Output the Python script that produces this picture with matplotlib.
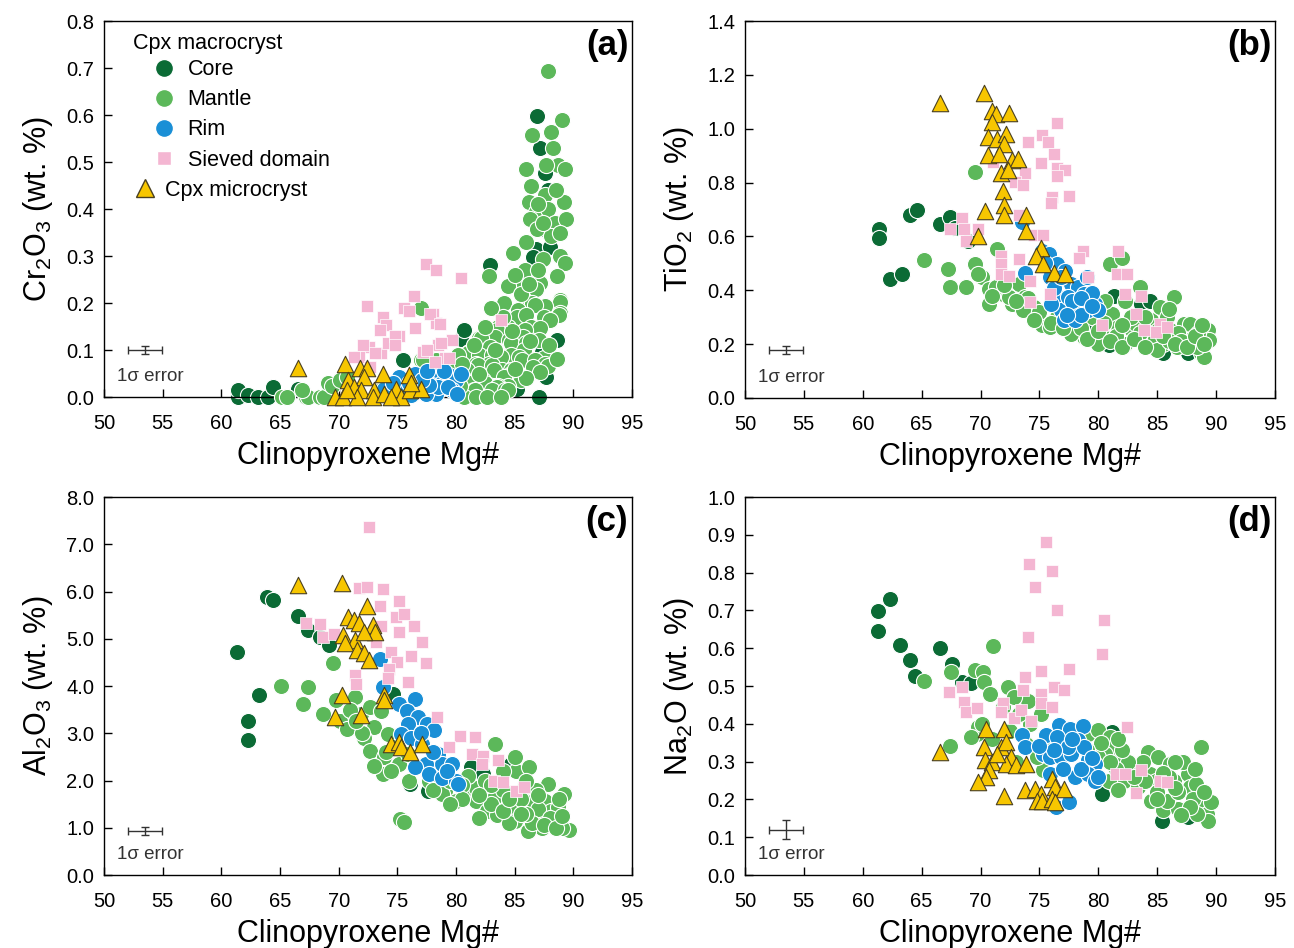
import matplotlib
matplotlib.use("Agg")
import matplotlib.pyplot as plt
from matplotlib.lines import Line2D
import numpy as np

plt.rcParams['font.family'] = ['Liberation Sans', 'DejaVu Sans']
plt.rcParams['mathtext.default'] = 'regular'

# ---------------- data (Mg#, oxide wt.%) ----------------
# panel (a) Cr2O3
a_core = [(61.4, 0.0), (61.4, 0.014), (62.3, 0.004), (63.1, 0.0), (64.0, 0.0), (64.4, 0.021),
          (66.5, 0.018), (75.5, 0.078), (80.4, 0.124), (80.7, 0.142), (82.9, 0.281), (88.6, 0.121),
          (87.1, 0.0), (87.7, 0.043), (87.3, 0.096), (86.9, 0.597), (87.2, 0.53), (87.6, 0.476),
          (87.8, 0.44), (87.7, 0.355), (86.8, 0.316), (86.6, 0.298), (88.0, 0.32), (85.2, 0.018)]
a_mantle = [(87.85, 0.693), (89.0, 0.589), (86.5, 0.557), (88.1, 0.564), (88.3, 0.529), (88.7, 0.493),
            (86.0, 0.486), (87.7, 0.493), (89.3, 0.486), (86.2, 0.414), (87.6, 0.429), (89.2, 0.414),
            (86.8, 0.393), (87.8, 0.4), (86.3, 0.379), (88.4, 0.371), (89.4, 0.379), (86.9, 0.357),
            (88.1, 0.343), (84.9, 0.307), (88.9, 0.3), (87.4, 0.293), (89.3, 0.286), (85.9, 0.271),
            (82.8, 0.257), (88.6, 0.257), (87.2, 0.243), (85.1, 0.236), (84.4, 0.236), (86.8, 0.229),
            (88.9, 0.207), (85.8, 0.2), (86.5, 0.2), (84.1, 0.2), (88.9, 0.202), (87.6, 0.193),
            (86.7, 0.195), (85.3, 0.185), (88.9, 0.179), (85.2, 0.171), (87.5, 0.17), (88.75, 0.174),
            (85.97, 0.174), (88.0, 0.164), (83.6, 0.15), (84.4, 0.149), (86.4, 0.149), (87.2, 0.146),
            (85.9, 0.143), (83.5, 0.143), (83.3, 0.128), (85.7, 0.128), (82.0, 0.125), (82.1, 0.125),
            (84.5, 0.121), (87.1, 0.121), (84.7, 0.114), (86.0, 0.114), (82.9, 0.107), (85.8, 0.1),
            (81.1, 0.096), (81.0, 0.093), (82.0, 0.089), (83.1, 0.089), (84.7, 0.089), (83.8, 0.086),
            (85.4, 0.086), (87.5, 0.082), (85.6, 0.079), (86.7, 0.079), (81.7, 0.071), (82.8, 0.071),
            (87.6, 0.071), (81.9, 0.068), (83.1, 0.068), (87.8, 0.065), (86.6, 0.064), (83.9, 0.058),
            (80.9, 0.057), (83.2, 0.057), (84.7, 0.057), (87.2, 0.054), (84.7, 0.05), (80.3, 0.05),
            (84.1, 0.043), (80.8, 0.037), (85.5, 0.036), (82.3, 0.036), (81.2, 0.029), (82.5, 0.03),
            (84.4, 0.023), (83.6, 0.023), (83.5, 0.021), (81.5, 0.015), (83.1, 0.015), (84.2, 0.015),
            (84.4, 0.014), (81.6, 0.014), (80.7, 0.0), (81.7, 0.0), (82.6, 0.0), (83.8, 0.0),
            (79.9, 0.061), (80.3, 0.023), (77.0, 0.19), (77.0, 0.079), (78.3, 0.079), (77.2, 0.079),
            (65.2, 0.0), (65.6, 0.0), (67.2, 0.0), (67.4, 0.0), (68.4, 0.0), (68.75, 0.0),
            (66.9, 0.014), (69.1, 0.029), (69.4, 0.023), (70.1, 0.036), (70.7, 0.043), (73.6, 0.015),
            (85.0, 0.26), (85.5, 0.22), (86.2, 0.24), (87.0, 0.27), (86.0, 0.33), (87.4, 0.37),
            (88.5, 0.44), (86.4, 0.45), (87.0, 0.41), (88.9, 0.35), (84.0, 0.17), (83.0, 0.19),
            (82.5, 0.15), (84.8, 0.14), (86.3, 0.12), (87.9, 0.11), (88.6, 0.08), (86.0, 0.04),
            (85.0, 0.06), (82.0, 0.05), (83.3, 0.1), (81.5, 0.11), (80.2, 0.09), (79.5, 0.02),
            (80.5, 0.07)]
a_rim = [(73.9, 0.018), (75.1, 0.043), (76.5, 0.05), (77.8, 0.043), (78.4, 0.057), (78.8, 0.029),
         (79.4, 0.046), (80.0, 0.036), (79.7, 0.014), (78.3, 0.007), (77.4, 0.007), (76.2, 0.004),
         (75.3, 0.014), (80.4, 0.05), (78.5, 0.021), (77.7, 0.025), (79.3, 0.021), (77.1, 0.036),
         (80.1, 0.007), (76.0, 0.03), (74.6, 0.03), (79.0, 0.055), (77.5, 0.055)]
a_sieve = [(77.4, 0.282), (78.3, 0.271), (80.4, 0.254), (72.4, 0.193), (76.4, 0.214), (75.6, 0.19),
           (76.0, 0.182), (78.0, 0.177), (78.3, 0.157), (73.8, 0.171), (74.0, 0.154), (73.5, 0.143),
           (75.1, 0.129), (76.5, 0.146), (72.6, 0.107), (73.6, 0.093), (78.5, 0.111), (79.7, 0.121),
           (77.2, 0.096), (79.1, 0.082), (71.7, 0.086), (83.8, 0.164), (72.7, 0.064), (74.2, 0.114),
           (74.8, 0.13), (77.8, 0.176), (78.6, 0.155), (72.1, 0.11), (73.1, 0.093), (74.8, 0.11),
           (71.3, 0.086), (77.5, 0.1), (78.7, 0.114), (79.4, 0.082), (78.2, 0.075)]
a_micro = [(66.5, 0.061), (70.5, 0.071), (71.8, 0.061), (72.4, 0.061), (73.8, 0.05), (76.0, 0.046),
           (70.8, 0.036), (72.2, 0.043), (71.3, 0.021), (71.9, 0.014), (73.0, 0.014), (69.7, 0.0),
           (70.4, 0.0), (71.6, 0.0), (72.9, 0.0), (73.9, 0.007), (74.9, 0.018), (75.3, 0.0),
           (76.1, 0.014), (77.0, 0.018), (76.2, 0.029), (70.7, 0.014), (74.5, 0.0)]

# panel (b) TiO2
b_core = [(61.4, 0.626), (61.4, 0.595), (64.0, 0.681), (64.6, 0.697), (62.3, 0.442), (63.3, 0.46),
          (66.6, 0.647), (67.4, 0.671), (67.8, 0.632), (68.9, 0.583), (80.9, 0.196), (81.3, 0.38),
          (83.6, 0.35), (84.4, 0.362), (87.6, 0.166), (74.8, 0.325), (79.4, 0.25), (85.5, 0.166)]
b_mantle = [(69.5, 0.838), (65.2, 0.512), (67.2, 0.479), (67.4, 0.411), (71.4, 0.552), (69.5, 0.497),
            (70.1, 0.448), (68.8, 0.411), (70.7, 0.405), (71.9, 0.386), (72.7, 0.35), (70.7, 0.35),
            (73.3, 0.423), (73.8, 0.374), (74.5, 0.337), (75.2, 0.27), (77.1, 0.325), (78.0, 0.288),
            (80.3, 0.239), (81.2, 0.313), (81.0, 0.497), (82.0, 0.521), (81.7, 0.264), (82.3, 0.202),
            (82.9, 0.252), (83.5, 0.411), (83.9, 0.202), (84.5, 0.288), (85.2, 0.337), (85.1, 0.252),
            (85.5, 0.202), (86.4, 0.374), (86.1, 0.252), (86.7, 0.19), (87.3, 0.276), (87.8, 0.276),
            (88.1, 0.202), (88.7, 0.166), (89.3, 0.252), (89.4, 0.215), (89.0, 0.153), (88.4, 0.19),
            (87.6, 0.215), (83.2, 0.276), (82.3, 0.362), (80.6, 0.362), (78.8, 0.227), (77.7, 0.239),
            (75.9, 0.264), (73.6, 0.325), (72.4, 0.374), (71.3, 0.411), (69.8, 0.46), (79.5, 0.3),
            (80.5, 0.28), (81.5, 0.23), (82.8, 0.3), (84.0, 0.25), (84.8, 0.22), (85.8, 0.3),
            (86.8, 0.24), (88.5, 0.24), (87.0, 0.21), (85.0, 0.18), (83.5, 0.24), (76.5, 0.3),
            (74.0, 0.37), (72.0, 0.42), (75.0, 0.32), (78.5, 0.26), (80.0, 0.2), (86.0, 0.21),
            (76.0, 0.28), (77.0, 0.26), (79.0, 0.22), (80.0, 0.25), (81.0, 0.21), (82.0, 0.19),
            (83.0, 0.22), (84.0, 0.19), (85.5, 0.23), (86.5, 0.2), (87.5, 0.19), (88.2, 0.23),
            (89.0, 0.2), (74.5, 0.29), (73.0, 0.36), (71.0, 0.38), (82.0, 0.27), (84.0, 0.3),
            (86.0, 0.33), (88.8, 0.27)]
b_rim = [(73.5, 0.654), (73.8, 0.466), (75.2, 0.546), (75.8, 0.534), (76.5, 0.497), (77.2, 0.472),
         (76.6, 0.374), (77.7, 0.423), (78.3, 0.411), (78.8, 0.387), (79.1, 0.325), (79.7, 0.35),
         (80.0, 0.325), (77.7, 0.325), (76.8, 0.325), (77.1, 0.288), (78.0, 0.288), (75.9, 0.448),
         (79.0, 0.448), (77.4, 0.374), (78.8, 0.35), (76.2, 0.41), (78.5, 0.31), (79.5, 0.39),
         (75.5, 0.5), (76.8, 0.45), (77.8, 0.36), (78.5, 0.37), (76.0, 0.35), (79.5, 0.34),
         (77.3, 0.31)]
b_sieve = [(76.5, 1.021), (75.2, 0.975), (75.7, 0.951), (74.0, 0.951), (76.2, 0.908), (75.1, 0.871),
           (76.5, 0.853), (77.2, 0.847), (76.5, 0.824), (73.8, 0.834), (72.9, 0.804), (73.6, 0.791),
           (76.1, 0.748), (77.5, 0.752), (76.0, 0.724), (71.1, 0.877), (68.4, 0.669), (67.4, 0.626),
           (68.6, 0.626), (68.8, 0.583), (69.8, 0.626), (73.3, 0.681), (74.5, 0.607), (75.3, 0.607),
           (71.7, 0.528), (73.3, 0.515), (71.7, 0.497), (71.7, 0.46), (72.4, 0.454), (74.2, 0.436),
           (75.9, 0.387), (74.2, 0.356), (78.7, 0.546), (78.4, 0.521), (79.1, 0.448), (81.7, 0.546),
           (81.6, 0.46), (82.4, 0.46), (82.3, 0.387), (83.6, 0.38), (83.2, 0.313), (80.3, 0.27),
           (85.2, 0.276), (83.9, 0.252), (84.9, 0.245), (85.8, 0.264)]
b_micro = [(66.6, 1.096), (70.3, 1.131), (71.0, 1.067), (71.3, 1.055), (72.4, 1.057), (71.0, 1.025),
           (70.6, 0.969), (71.4, 0.963), (72.2, 0.982), (72.0, 0.945), (70.6, 0.902), (71.6, 0.908),
           (72.7, 0.883), (73.2, 0.887), (71.7, 0.834), (72.3, 0.847), (71.9, 0.767), (72.0, 0.718),
           (72.0, 0.679), (70.4, 0.693), (73.9, 0.681), (73.9, 0.62), (69.8, 0.601), (75.1, 0.558),
           (74.7, 0.528), (75.3, 0.497), (76.2, 0.466), (77.2, 0.46)]

# panel (c) Al2O3
c_core = [(61.3, 4.71), (63.2, 3.82), (62.3, 3.26), (62.3, 2.86), (63.9, 5.88), (64.4, 5.82),
          (66.5, 5.48), (67.4, 5.18), (68.4, 5.04), (69.2, 4.87), (74.6, 3.84), (76.1, 1.92),
          (77.6, 1.78), (81.3, 2.28), (82.3, 2.13), (84.7, 2.35)]
c_mantle = [(69.5, 4.48), (65.1, 4.01), (67.4, 3.98), (67.0, 3.62), (68.7, 3.41), (69.8, 3.70),
            (71.4, 3.77), (70.1, 3.27), (70.7, 3.09), (71.9, 3.41), (72.7, 3.55), (73.0, 3.13),
            (72.2, 2.91), (73.6, 3.48), (74.2, 2.99), (72.7, 2.63), (73.9, 2.49), (73.8, 2.13),
            (75.1, 2.35), (74.8, 2.70), (75.2, 1.18), (75.6, 1.13), (79.1, 1.78), (80.6, 1.71),
            (81.7, 1.57), (83.2, 1.64), (83.3, 2.77), (82.6, 1.35), (83.5, 1.28), (84.7, 1.43),
            (85.1, 2.21), (86.2, 2.28), (85.8, 1.85), (86.4, 1.57), (86.7, 1.21), (87.8, 1.92),
            (87.6, 1.57), (88.1, 1.35), (88.4, 1.14), (89.2, 1.71), (89.6, 0.96), (89.0, 1.0),
            (88.7, 1.43), (87.3, 1.0), (86.1, 0.93), (85.0, 1.14), (81.7, 1.85), (80.0, 1.57),
            (78.8, 1.71), (77.7, 1.99), (76.5, 2.28), (75.9, 2.56), (82.5, 2.0), (84.0, 1.8),
            (85.5, 1.6), (87.0, 1.4), (88.0, 1.2), (86.5, 1.1), (84.5, 1.1), (83.0, 1.5),
            (81.0, 2.1), (80.5, 1.9), (79.5, 2.0), (86.8, 1.8), (85.0, 2.5), (84.0, 2.2),
            (82.0, 1.2), (88.8, 1.6), (74.5, 2.2), (72.0, 3.0), (71.0, 3.5), (76.0, 2.0),
            (86.0, 1.3), (87.5, 1.05), (88.5, 1.0), (85.5, 1.3), (84.0, 1.35), (83.0, 1.9),
            (82.0, 1.7), (80.5, 1.6), (86.0, 2.0), (87.0, 1.7), (89.0, 1.25), (84.5, 1.6),
            (78.0, 1.8), (79.5, 1.5), (74.0, 2.6), (71.5, 3.25), (73.0, 2.3)]
c_rim = [(73.5, 4.57), (73.8, 3.98), (76.5, 3.73), (75.1, 3.62), (75.8, 3.48), (76.8, 3.34),
         (77.5, 3.20), (78.1, 3.06), (75.9, 3.20), (75.3, 2.99), (76.2, 2.91), (77.1, 2.77),
         (78.5, 2.56), (78.8, 2.35), (79.7, 2.35), (77.4, 2.35), (76.5, 2.28), (77.7, 2.13),
         (78.8, 2.06), (80.0, 1.99), (80.2, 1.92), (79.2, 2.2), (77.0, 3.0), (78.0, 2.6)]
c_sieve = [(72.6, 7.37), (71.7, 6.07), (72.4, 6.09), (73.8, 6.05), (73.5, 5.69), (75.1, 5.79),
           (74.9, 5.47), (75.6, 5.52), (76.4, 5.26), (75.1, 5.15), (77.1, 4.94), (67.2, 5.33),
           (68.4, 5.31), (68.7, 5.04), (69.6, 5.11), (73.6, 5.26), (73.2, 4.94), (74.5, 4.71),
           (75.0, 4.51), (76.2, 4.64), (77.4, 4.49), (74.3, 4.37), (71.4, 4.23), (71.5, 4.05),
           (74.2, 4.16), (75.9, 4.09), (78.4, 3.34), (80.3, 2.95), (81.6, 2.93), (79.4, 2.70),
           (81.4, 2.56), (82.3, 2.52), (83.6, 2.43), (82.2, 2.35), (83.2, 1.99), (84.0, 1.96),
           (85.1, 1.78), (85.8, 1.87)]
c_micro = [(66.5, 6.14), (70.3, 6.18), (72.4, 5.70), (70.8, 5.47), (71.3, 5.40), (71.7, 5.33),
           (72.9, 5.29), (73.1, 5.15), (70.4, 5.08), (71.4, 4.97), (72.2, 5.15), (70.5, 4.90),
           (71.6, 4.76), (72.2, 4.69), (72.6, 4.55), (70.3, 3.80), (73.9, 3.80), (73.9, 3.70),
           (69.7, 3.34), (71.9, 3.38), (74.5, 2.77), (75.1, 2.81), (75.3, 2.70), (76.1, 2.60),
           (77.1, 2.77)]

# panel (d) Na2O
d_core = [(61.3, 0.645), (61.3, 0.698), (62.3, 0.73), (63.2, 0.608), (64.0, 0.57), (64.4, 0.526),
          (66.6, 0.60), (67.6, 0.558), (68.4, 0.511), (69.2, 0.507), (81.2, 0.378), (85.4, 0.144),
          (87.6, 0.153), (80.3, 0.215)]
d_mantle = [(71.1, 0.606), (65.2, 0.513), (67.5, 0.538), (69.5, 0.542), (70.2, 0.538), (70.3, 0.511),
            (70.8, 0.48), (72.3, 0.498), (67.4, 0.34), (69.7, 0.374), (69.8, 0.392), (74.2, 0.40),
            (75.1, 0.427), (75.3, 0.277), (79.1, 0.374), (80.0, 0.383), (81.0, 0.365), (81.3, 0.339),
            (82.0, 0.312), (82.2, 0.25), (80.9, 0.25), (83.2, 0.286), (84.2, 0.325), (84.4, 0.268),
            (85.1, 0.312), (84.9, 0.25), (86.1, 0.294), (86.4, 0.25), (84.5, 0.197), (85.5, 0.171),
            (86.8, 0.175), (87.6, 0.268), (87.8, 0.233), (88.3, 0.241), (88.7, 0.339), (88.7, 0.197),
            (89.2, 0.162), (89.3, 0.144), (89.6, 0.193), (88.4, 0.162), (85.8, 0.197), (83.4, 0.233),
            (81.7, 0.224), (80.6, 0.321), (80.0, 0.312), (74.8, 0.312), (73.9, 0.347), (73.3, 0.427),
            (71.9, 0.445), (70.1, 0.40), (69.2, 0.365), (82.8, 0.27), (83.8, 0.3), (86.8, 0.22),
            (87.2, 0.3), (85.0, 0.22), (88.0, 0.2), (86.0, 0.26), (82.5, 0.3), (81.5, 0.28),
            (72.5, 0.38), (71.0, 0.36), (76.0, 0.35), (73.0, 0.3), (74.0, 0.46), (72.8, 0.47),
            (84.0, 0.25), (85.5, 0.27), (86.5, 0.23), (87.8, 0.18), (88.2, 0.28), (87.0, 0.16),
            (85.0, 0.2), (83.0, 0.26), (82.0, 0.33), (81.0, 0.3), (80.2, 0.35), (79.0, 0.33),
            (81.7, 0.36), (89.0, 0.22), (86.5, 0.3)]
d_rim = [(73.5, 0.37), (73.8, 0.339), (75.6, 0.37), (76.7, 0.396), (77.6, 0.387), (78.7, 0.393),
         (78.3, 0.356), (76.5, 0.365), (75.3, 0.321), (75.9, 0.312), (76.8, 0.312), (77.7, 0.321),
         (79.1, 0.303), (79.7, 0.294), (78.0, 0.259), (79.1, 0.268), (79.7, 0.25), (76.4, 0.18),
         (77.5, 0.193), (75.9, 0.268), (78.8, 0.339), (77.4, 0.339), (80.0, 0.259), (77.0, 0.28),
         (76.2, 0.33), (78.5, 0.28), (77.8, 0.36), (75.0, 0.34), (79.5, 0.31)]
d_sieve = [(75.6, 0.882), (74.1, 0.822), (76.1, 0.805), (74.6, 0.761), (76.5, 0.701), (80.5, 0.675),
           (74.0, 0.629), (80.3, 0.586), (73.8, 0.524), (75.1, 0.539), (77.5, 0.544), (67.3, 0.483),
           (68.4, 0.498), (68.6, 0.458), (68.8, 0.431), (69.7, 0.441), (73.6, 0.489), (75.1, 0.48),
           (76.2, 0.498), (77.1, 0.489), (71.9, 0.454), (71.7, 0.431), (72.8, 0.416), (73.4, 0.436),
           (74.3, 0.408), (75.1, 0.454), (76.1, 0.445), (82.4, 0.392), (81.5, 0.268), (82.3, 0.268),
           (83.6, 0.279), (85.2, 0.25), (83.2, 0.217), (85.8, 0.246)]
d_micro = [(66.6, 0.325), (70.5, 0.387), (72.0, 0.387), (70.3, 0.339), (71.7, 0.339), (72.2, 0.352),
           (72.6, 0.312), (70.4, 0.303), (71.0, 0.299), (72.2, 0.294), (73.0, 0.29), (73.9, 0.294),
           (70.7, 0.277), (70.5, 0.259), (69.8, 0.246), (72.0, 0.208), (73.8, 0.224), (74.6, 0.228),
           (75.1, 0.215), (76.1, 0.255), (76.3, 0.233), (77.1, 0.228), (74.8, 0.197), (75.2, 0.197),
           (76.1, 0.202), (76.3, 0.193), (71.4, 0.321)]

# error bars (x, y, xerr, yerr)
err_a = (53.45, 0.100, 1.45, 0.009)
err_b = (53.45, 0.178, 1.45, 0.015)
err_c = (53.45, 0.93, 1.45, 0.09)
err_d = (53.45, 0.12, 1.45, 0.026)

ylabels = ['Cr$_2$O$_3$ (wt. %)', 'TiO$_2$ (wt. %)', 'Al$_2$O$_3$ (wt. %)', 'Na$_2$O (wt. %)']
tags = ['(a)', '(b)', '(c)', '(d)']
yticks = [np.arange(0, 0.81, 0.1), np.arange(0, 1.41, 0.2), np.arange(0, 8.01, 1.0), np.arange(0, 1.01, 0.1)]

C_CORE = '#0b6b35'
C_MANTLE = '#5cb85a'
C_RIM = '#1a8fd6'
C_SIEVE = '#f4b6d2'
C_MICRO = '#f7c600'

fig = plt.figure(figsize=(12.94, 9.48), dpi=100)
boxes = [(0.0804, 0.5812, 0.408, 0.3966), (0.5757, 0.5802, 0.4096, 0.3976),
         (0.0804, 0.0770, 0.408, 0.3987), (0.5757, 0.0770, 0.4096, 0.3987)]
panels = [(a_core, a_mantle, a_rim, a_sieve, a_micro, err_a),
          (b_core, b_mantle, b_rim, b_sieve, b_micro, err_b),
          (c_core, c_mantle, c_rim, c_sieve, c_micro, err_c),
          (d_core, d_mantle, d_rim, d_sieve, d_micro, err_d)]


def xy(pts):
    arr = np.array(pts)
    return arr[:, 0], arr[:, 1]


for i, (box, data) in enumerate(zip(boxes, panels)):
    ax = fig.add_axes(box)
    core, mantle, rim, sieve, micro, err = data

    ax.scatter(*xy(core), s=135, c=C_CORE, edgecolors='white', linewidths=0.8, zorder=2, clip_on=False)
    ax.scatter(*xy(mantle), s=135, c=C_MANTLE, edgecolors='white', linewidths=0.8, zorder=3, clip_on=False)
    ax.scatter(*xy(rim), s=135, c=C_RIM, edgecolors='white', linewidths=0.8, zorder=4, clip_on=False)
    ax.scatter(*xy(sieve), s=75, c=C_SIEVE, marker='s', edgecolors='white', linewidths=0.5, zorder=5, clip_on=False)
    ax.scatter(*xy(micro), s=140, c=C_MICRO, marker='^', edgecolors='#4a4020', linewidths=0.8, zorder=6, clip_on=False)

    ex, ey, exe, eye = err
    ax.errorbar([ex], [ey], xerr=[exe], yerr=[eye], fmt='none', ecolor='#333333',
                elinewidth=1.0, capsize=3, capthick=1.0)
    ax.text(0.087, 0.055, '1σ error', transform=ax.transAxes, ha='center', va='center',
            fontsize=13.5, color='#333333')

    ax.text(0.993, 0.935, tags[i], transform=ax.transAxes, ha='right', va='center',
            fontsize=25, fontweight='bold')

    ax.set_xlim(50, 95)
    ax.set_xticks(np.arange(50, 96, 5))
    ax.set_ylim(yticks[i][0], yticks[i][-1])
    ax.set_yticks(yticks[i])
    ax.set_yticklabels(['%.1f' % v for v in yticks[i]])
    ax.tick_params(direction='in', length=6, width=1, labelsize=14.5, pad=7,
                   top=False, right=False)
    ax.tick_params(axis='x', pad=12)
    ax.set_xlabel('Clinopyroxene Mg#', fontsize=22, labelpad=6)
    ax.set_ylabel(ylabels[i], fontsize=22, labelpad=8)
    for sp in ax.spines.values():
        sp.set_linewidth(1.0)

    if i == 0:
        ax.text(0.055, 0.94, 'Cpx macrocryst', transform=ax.transAxes, ha='left', va='center',
                fontsize=15.5)
        hs = [Line2D([], [], ls='', marker='o', ms=13, mfc=c, mec='white')
              for c in (C_CORE, C_MANTLE, C_RIM)]
        hs.append(Line2D([], [], ls='', marker='s', ms=10, mfc=C_SIEVE, mec='white'))
        leg1 = ax.legend(hs, ['Core', 'Mantle', 'Rim', 'Sieved domain'], loc='upper left',
                         bbox_to_anchor=(0.093, 0.898), borderaxespad=0, borderpad=0,
                         handlelength=1.0, handletextpad=0.6, labelspacing=0.42,
                         fontsize=15.5, frameon=False)
        ax.add_artist(leg1)
        ht = Line2D([], [], ls='', marker='^', ms=13, mfc=C_MICRO, mec='#4a4020')
        ax.legend([ht], ['Cpx microcryst'], loc='upper left', bbox_to_anchor=(0.057, 0.578),
                  borderaxespad=0, borderpad=0, handlelength=1.0, handletextpad=0.45,
                  fontsize=15.5, frameon=False)

fig.savefig('out.png', dpi=100)
